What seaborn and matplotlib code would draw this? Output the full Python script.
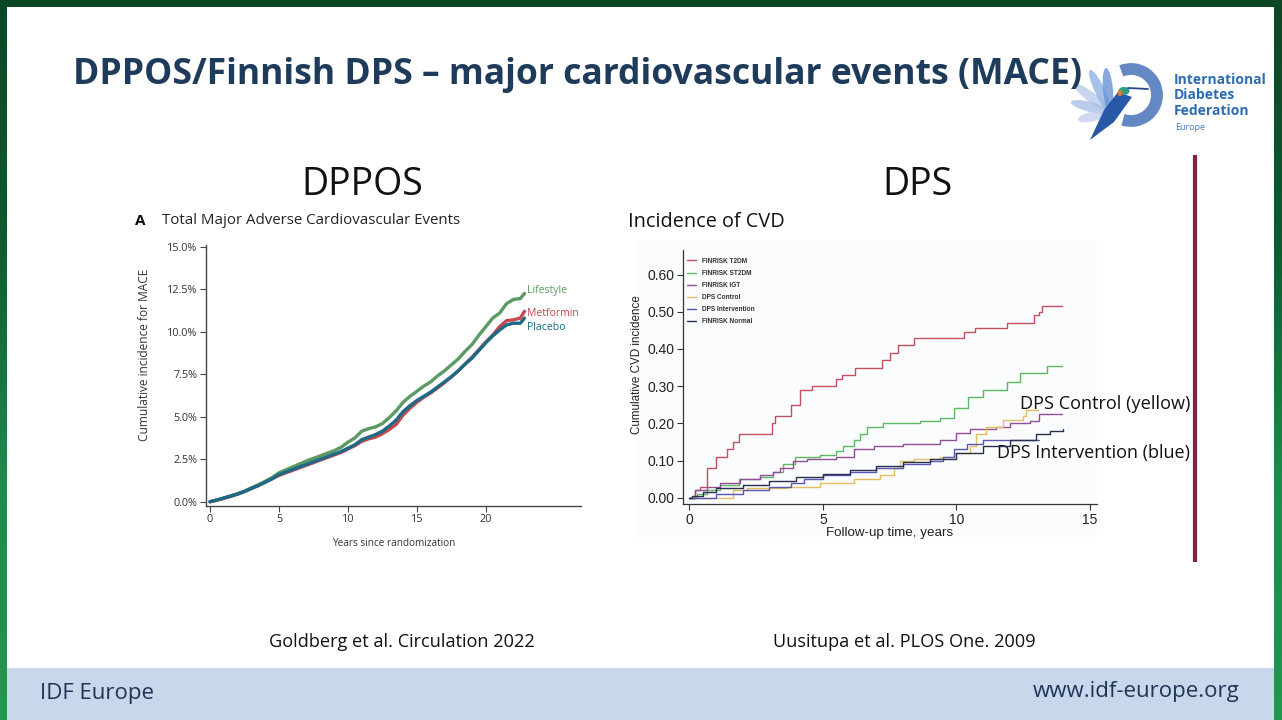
import matplotlib
matplotlib.use("Agg")
import matplotlib.pyplot as plt
import numpy as np
import pandas as pd
import seaborn as sns
from matplotlib.colors import LinearSegmentedColormap
from matplotlib.patches import Rectangle, Arc, Polygon, Ellipse

# ---- DPPOS: cumulative incidence of MACE (%) ----
dppos_years = [0, 0.5, 1, 1.5, 2, 2.5, 3, 3.5, 4, 4.5, 5, 5.5, 6, 6.5, 7, 7.5,
               8, 8.5, 9, 9.5, 10, 10.5, 11, 11.5, 12, 12.5, 13, 13.5, 14, 14.5,
               15, 15.5, 16, 16.5, 17, 17.5, 18, 18.5, 19, 19.5, 20, 20.5, 21,
               21.5, 22, 22.5, 22.8]
lifestyle = [0, 0.1, 0.22, 0.35, 0.48, 0.63, 0.82, 1.0, 1.2, 1.42, 1.7, 1.88,
             2.05, 2.22, 2.4, 2.55, 2.7, 2.85, 3.0, 3.2, 3.5, 3.75, 4.15, 4.3,
             4.4, 4.6, 4.95, 5.35, 5.85, 6.2, 6.5, 6.8, 7.05, 7.4, 7.7, 8.05,
             8.4, 8.85, 9.25, 9.8, 10.3, 10.8, 11.1, 11.65, 11.9, 11.95, 12.25]
metformin = [0, 0.1, 0.2, 0.32, 0.45, 0.6, 0.78, 0.95, 1.15, 1.35, 1.55, 1.7,
             1.85, 2.0, 2.15, 2.3, 2.45, 2.6, 2.75, 2.9, 3.1, 3.3, 3.55, 3.7,
             3.8, 4.0, 4.25, 4.55, 5.1, 5.5, 5.85, 6.15, 6.4, 6.7, 7.0, 7.35,
             7.7, 8.1, 8.5, 8.95, 9.4, 9.8, 10.3, 10.65, 10.7, 10.8, 11.2]
placebo = [0, 0.1, 0.22, 0.33, 0.45, 0.6, 0.78, 0.95, 1.15, 1.35, 1.6, 1.75,
           1.9, 2.05, 2.2, 2.35, 2.5, 2.65, 2.8, 2.95, 3.15, 3.35, 3.65, 3.8,
           3.95, 4.15, 4.45, 4.8, 5.3, 5.65, 5.95, 6.2, 6.45, 6.75, 7.05, 7.35,
           7.7, 8.1, 8.45, 8.9, 9.35, 9.75, 10.1, 10.4, 10.5, 10.5, 10.8]
dppos_arms = ["Lifestyle", "Metformin", "Placebo"]
dppos_colors = {"Lifestyle": "#5b9a62", "Metformin": "#c4484e", "Placebo": "#1d6a86"}
dppos_yticks = [0, 2.5, 5, 7.5, 10, 12.5, 15]
dppos_xticks = [0, 5, 10, 15, 20]

# ---- DPS / FINRISK: cumulative CVD incidence, step knots ----
t2dm_t = [0, 0.2, 0.4, 0.67, 1.0, 1.4, 1.65, 1.85, 3.1, 3.2, 3.3, 3.8, 4.15, 4.6,
          5.5, 5.7, 6.2, 7.2, 7.5, 7.8, 8.4, 10.3, 10.7, 11.9, 12.9, 13.1, 13.2, 13.95]
t2dm_v = [0, 0.02, 0.03, 0.08, 0.11, 0.13, 0.15, 0.17, 0.20, 0.22, 0.22, 0.25, 0.29,
          0.30, 0.32, 0.33, 0.35, 0.37, 0.39, 0.41, 0.43, 0.445, 0.455, 0.47, 0.49,
          0.50, 0.515, 0.515]
st2dm_t = [0, 0.3, 0.65, 1.15, 1.85, 2.65, 3.15, 3.5, 3.95, 4.9, 5.5, 5.75, 6.15,
           6.4, 6.65, 7.25, 8.65, 9.4, 9.9, 10.45, 11.0, 11.9, 12.4, 13.4, 13.95]
st2dm_v = [0, 0.01, 0.02, 0.035, 0.05, 0.055, 0.07, 0.09, 0.11, 0.115, 0.125, 0.14,
           0.155, 0.17, 0.19, 0.20, 0.205, 0.215, 0.24, 0.27, 0.29, 0.31, 0.335,
           0.355, 0.355]
igt_t = [0, 0.2, 0.65, 1.15, 1.9, 2.65, 3.15, 3.4, 3.9, 4.4, 5.5, 6.15, 6.9, 8.0,
         9.4, 10.0, 10.5, 11.5, 12.0, 12.75, 13.1, 13.95]
igt_v = [0, 0.02, 0.03, 0.04, 0.05, 0.06, 0.07, 0.08, 0.10, 0.105, 0.11, 0.13, 0.14,
         0.145, 0.155, 0.175, 0.185, 0.19, 0.20, 0.205, 0.225, 0.225]
control_t = [0, 1.65, 2.15, 3.65, 4.9, 6.15, 7.15, 7.65, 7.9, 8.4, 9.4, 9.9, 10.5,
             10.75, 11.1, 11.75, 12.5, 12.6, 13.05]
control_v = [0, 0.02, 0.025, 0.03, 0.04, 0.05, 0.06, 0.08, 0.10, 0.105, 0.11, 0.12,
             0.14, 0.17, 0.19, 0.21, 0.22, 0.235, 0.235]
interv_t = [0, 1.0, 2.0, 3.0, 3.8, 4.3, 5.0, 6.0, 7.0, 8.0, 9.0, 9.5, 9.9, 10.4,
            11.0, 13.1]
interv_v = [0, 0.01, 0.02, 0.03, 0.04, 0.05, 0.06, 0.07, 0.08, 0.09, 0.10, 0.11,
            0.13, 0.145, 0.155, 0.155]
normal_t = [0, 0.1, 0.5, 1, 2, 3, 4, 5, 6, 7, 8, 9, 10, 11, 12, 13, 13.5, 14]
normal_v = [0, 0.005, 0.015, 0.025, 0.035, 0.045, 0.055, 0.065, 0.075, 0.085,
            0.095, 0.105, 0.12, 0.14, 0.155, 0.17, 0.18, 0.185]
dps_groups = ["FINRISK T2DM", "FINRISK ST2DM", "FINRISK IGT", "DPS Control",
              "DPS Intervention", "FINRISK Normal"]
dps_colors = {"FINRISK T2DM": "#c4505e", "FINRISK ST2DM": "#5cb861",
              "FINRISK IGT": "#934c96", "DPS Control": "#e4bd62",
              "DPS Intervention": "#5a56b4", "FINRISK Normal": "#28304e"}
dps_yticks = [0, 0.1, 0.2, 0.3, 0.4, 0.5, 0.6]
dps_xticks = [0, 5, 10, 15]

W, H = 1282, 720
sns.set_style("white")
plt.rcParams["font.family"] = ["Open Sans", "DejaVu Sans"]
arial = ["Liberation Sans", "DejaVu Sans"]

fig = plt.figure(figsize=(W / 100, H / 100), dpi=100)

# slide background drawn in pixel coordinates
bg = fig.add_axes([0, 0, 1, 1], zorder=0)
bg.set_xlim(0, W)
bg.set_ylim(H, 0)
bg.axis("off")
greens = LinearSegmentedColormap.from_list("g", ["#0c4725", "#0f5a30", "#1d8b4c", "#23964f"])
grad = np.linspace(0, 1, 200).reshape(-1, 1)
bg.imshow(grad, cmap=greens, extent=(0, 7, H, 0), aspect="auto")
bg.imshow(grad, cmap=greens, extent=(1274, W, H, 0), aspect="auto")
bg.add_patch(Rectangle((0, 0), W, 7, color="#0c4725", lw=0))
bg.add_patch(Rectangle((7, 668), 1267, 52, color="#c9d7ec", lw=0))
bg.add_patch(Rectangle((634, 240), 463, 297, color="#fafcfd", lw=0))
bg.plot([1195, 1195], [155, 562], color="#862040", lw=3, solid_capstyle="butt")

navy = "#1f3b5c"
bg.text(73, 75, "DPPOS/Finnish DPS \u2013 major cardiovascular events (MACE)",
        fontsize=25.6, fontweight="bold", color=navy, ha="left", va="center")
bg.text(362, 185, "DPPOS", fontsize=27, color="#111111", ha="center", va="center")
bg.text(917, 185, "DPS", fontsize=27, color="#111111", ha="center", va="center")
bg.text(135, 221, "A", fontsize=11, fontweight="bold", color="#111111", va="center")
bg.text(162, 221, "Total Major Adverse Cardiovascular Events", fontsize=10.8,
        color="#222222", va="center")
bg.text(628, 222, "Incidence of CVD", fontsize=14.3, color="#111111", va="center")
bg.text(1020, 404, "DPS Control (yellow)", fontsize=13.1, color="#111111", va="center")
bg.text(997, 453, "DPS Intervention (blue)", fontsize=13.0, color="#111111", va="center")
bg.text(402, 642, "Goldberg et al. Circulation 2022", fontsize=13.1, color="#111111",
        ha="center", va="center")
bg.text(904, 642, "Uusitupa et al. PLOS One. 2009", fontsize=13.1, color="#111111",
        ha="center", va="center")
bg.text(40, 694, "IDF Europe", fontsize=16, color="#1f3556", va="center")
bg.text(1239, 692, "www.idf-europe.org", fontsize=16, color="#1f3556", ha="right",
        va="center")

# IDF logo: ring plus a stylised hummingbird
bg.add_patch(Arc((1131, 95), 52, 52, theta1=-112, theta2=108, lw=8.5,
                 color="#6488c4"))
base = np.array([1110.0, 112.0])
for tip, col in [((1074, 84), "#b9cbeb"), ((1071, 102), "#aabfe6"),
                 ((1078, 120), "#c6cfec"), ((1090, 70), "#8fb2e0"),
                 ((1106, 68), "#6a93d2")]:
    d = np.array(tip) - base
    mid = base + d / 2
    bg.add_patch(Ellipse(mid, np.hypot(*d), 10, angle=np.degrees(np.arctan2(d[1], d[0])),
                         color=col, alpha=0.8, lw=0))
bg.add_patch(Polygon([[1118, 92], [1132, 97], [1114, 122], [1090, 140], [1104, 110]],
                     color="#2a58a8", lw=0))
bg.add_patch(Ellipse((1124, 91), 11, 8, color="#2f9c86", lw=0))
bg.add_patch(Ellipse((1120, 93), 5, 6, color="#e0782e", lw=0))
bg.plot([1128, 1148], [88, 89], color="#264a92", lw=1.3)
logo_blue = "#2e6cb3"
bg.text(1174, 80, "International", fontsize=10, fontweight="bold", color=logo_blue, va="center")
bg.text(1174, 95, "Diabetes", fontsize=10, fontweight="bold", color=logo_blue, va="center")
bg.text(1174, 111, "Federation", fontsize=10, fontweight="bold", color=logo_blue, va="center")
bg.text(1175, 127, "Europe", fontsize=6.5, color="#4a78b6", va="center")

# ---- left chart: DPPOS ----
ax1 = fig.add_axes([206 / W, 1 - 506 / H, 375 / W, 261 / H], zorder=2)
ax1.patch.set_alpha(0)
dppos_df = pd.concat([
    pd.DataFrame({"years": dppos_years, "inc": vals, "arm": arm})
    for arm, vals in zip(dppos_arms, [lifestyle, metformin, placebo])
])
sns.lineplot(data=dppos_df, x="years", y="inc", hue="arm", palette=dppos_colors,
             hue_order=dppos_arms, estimator=None, sort=False,
             linewidth=2.4, legend=False, ax=ax1)
ax1.set_xlim(-0.29, 26.9)
ax1.set_ylim(-0.25, 15.1)
ax1.set_xticks(dppos_xticks)
ax1.set_yticks(dppos_yticks)
ax1.set_yticklabels([f"{v:.1f}%" for v in dppos_yticks])
for s in ["top", "right"]:
    ax1.spines[s].set_visible(False)
for s in ["left", "bottom"]:
    ax1.spines[s].set_color("#444444")
    ax1.spines[s].set_linewidth(1.0)
ax1.tick_params(axis="both", direction="out", length=4, width=0.8, color="#444444",
                labelsize=7.8, labelcolor="#333333", pad=2, left=True, bottom=True)
ax1.set_xlabel("Years since randomization", fontsize=7.2, color="#333333", labelpad=9)
ax1.set_ylabel("Cumulative incidence for MACE", fontsize=8.6, color="#333333")
ax1.yaxis.set_label_coords(-0.147, 0.58)
ax1.text(23.0, lifestyle[-1] + 0.15, "Lifestyle", color=dppos_colors["Lifestyle"],
         fontsize=7.6, va="center")
ax1.text(23.0, metformin[-1] - 0.1, "Metformin", color=dppos_colors["Metformin"],
         fontsize=7.6, va="center")
ax1.text(23.0, placebo[-1] - 0.55, "Placebo", color=dppos_colors["Placebo"],
         fontsize=7.6, va="center")

# ---- right chart: DPS vs FINRISK ----
ax2 = fig.add_axes([682.7 / W, 1 - 504.3 / H, 414 / W, 254.3 / H], zorder=2)
ax2.patch.set_alpha(0)
dps_series = [(t2dm_t, t2dm_v), (st2dm_t, st2dm_v), (igt_t, igt_v),
              (control_t, control_v), (interv_t, interv_v), (normal_t, normal_v)]
dps_df = pd.concat([
    pd.DataFrame({"years": t, "inc": v, "group": g})
    for g, (t, v) in zip(dps_groups, dps_series)
])
sns.lineplot(data=dps_df, x="years", y="inc", hue="group", palette=dps_colors,
             hue_order=dps_groups, estimator=None, sort=False, drawstyle="steps-post",
             linewidth=1.0, ax=ax2)
ax2.set_xlim(-0.25, 15.26)
ax2.set_ylim(-0.0177, 0.666)
ax2.set_xticks(dps_xticks)
ax2.set_yticks(dps_yticks)
ax2.set_yticklabels([f"{v:.2f}" for v in dps_yticks])
for s in ["top", "right"]:
    ax2.spines[s].set_visible(False)
for s in ["left", "bottom"]:
    ax2.spines[s].set_color("#333333")
    ax2.spines[s].set_linewidth(0.9)
ax2.tick_params(axis="both", direction="out", length=4, width=0.8, color="#333333",
                labelsize=10, labelcolor="#222222", pad=2, left=True, bottom=True)
for lab in ax2.get_xticklabels() + ax2.get_yticklabels():
    lab.set_family(arial)
ax2.set_xlabel("Follow-up time, years", fontsize=9.6, color="#222222", labelpad=0.5,
               family=arial, fontweight="medium")
ax2.set_ylabel("Cumulative CVD incidence", fontsize=8.4, color="#222222", family=arial)
ax2.yaxis.set_label_coords(-0.096, 0.55)
leg = ax2.legend(loc="upper left", bbox_to_anchor=(0.0, 0.985), frameon=False,
                 fontsize=4.7, handlelength=1.4, handletextpad=0.9, labelspacing=0.78,
                 borderaxespad=0.2)
for txt in leg.get_texts():
    txt.set_fontweight("bold")
    txt.set_color("#333333")
    txt.set_family(arial)

fig.savefig("out.png", dpi=100)
